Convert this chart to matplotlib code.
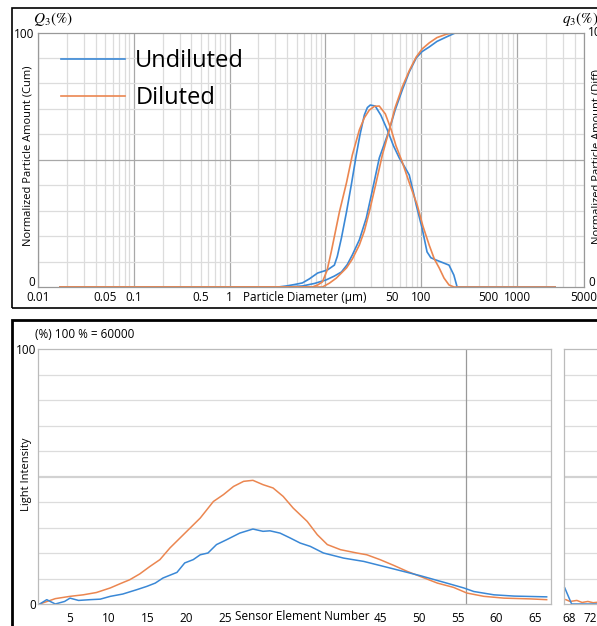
import numpy as np
import matplotlib
matplotlib.use('Agg')
import matplotlib.pyplot as plt
from matplotlib.patches import Rectangle

plt.rcParams['font.family'] = ['Open Sans', 'DejaVu Sans']
plt.rcParams['mathtext.fontset'] = 'stix'

W, H = 597, 626

# --- particle size distribution (top) ---
d_und_diff = [0.017, 3.2, 3.9, 4.8, 5.75, 6.8, 8.3, 10.5, 12.4, 13.3, 14.7, 16.6, 18.7, 21, 23, 25.5, 27.4, 29.4,
              33.1, 37.9, 44.3, 51.3, 59, 66.4, 75, 82.5, 88.7, 102, 115, 126, 143, 167, 195, 219, 237, 2500]
q3_und = [0, 0, 0.4, 1.0, 1.6, 3.2, 5.5, 6.7, 8.6, 12, 19.3, 29.5, 40.5, 51.9, 60, 67.6, 70.5, 71.5,
          71.1, 67.5, 61.7, 55.5, 50.7, 47.5, 44, 37.5, 32.2, 23.2, 13.8, 11.5, 10.6, 9.6, 8.6, 4.7, 0, 0]
d_dil_diff = [0.017, 7.3, 8.3, 9.3, 10.4, 11.5, 14.0, 16.6, 19.1, 22.6, 25.5, 28.7, 32.5, 36.5, 42.2, 48.7,
              54.5, 63.4, 75, 90.8, 104, 121, 137, 154, 173, 195, 220, 2500]
q3_dil = [0, 0, 0.8, 2, 6.5, 13.8, 29.5, 41, 51.9, 61.7, 66.5, 69.5, 71, 71.1, 68, 61.7,
          55.5, 49.1, 41, 32.2, 24, 16.5, 11, 7.5, 3.5, 0.8, 0, 0]
d_und_cum = [0.017, 3.9, 5.75, 7.7, 10.2, 12.4, 14.7, 16.9, 19.1, 22.6, 26.7, 30.7, 36.5, 46.4, 53.4, 63.4,
             75, 88.7, 102, 121, 146, 182, 232, 2500]
Q3_und = [0, 0, 0.4, 1.4, 2.8, 4.3, 5.9, 8.8, 12.6, 18.5, 27.1, 37.5, 50.7, 61.7, 69.5, 77.4,
          84.5, 90, 92.5, 94.3, 96.5, 98.2, 100, 100]
d_dil_cum = [0.017, 9.3, 11, 13, 16.6, 19.1, 22.6, 25.5, 28.7, 33.1, 39.3, 46.4, 53.4, 63.4, 75, 88.7,
             102, 121, 146, 182, 221, 2500]
Q3_dil = [0, 0, 1.5, 3.5, 7.5, 11, 16.5, 22, 29.5, 39.5, 51.9, 61.7, 70.5, 78.6, 85, 90.4,
          93.5, 95.9, 98, 99.3, 100, 100]
size_ticks = [0.01, 0.05, 0.1, 0.5, 1, 50, 100, 500, 1000, 5000]
size_labels = ['0.01', '0.05', '0.1', '0.5', '1', '50', '100', '500', '1000', '5000']

# --- light intensity per sensor element (bottom) ---
elem_dil = [1.1, 3.1, 5, 6.7, 8.4, 10.2, 11.5, 12.7, 14, 15.3, 16.6, 17.9, 19.2, 20.5, 21.8, 23.5, 24.8,
            26.1, 27.4, 28.6, 29.9, 31.2, 32.5, 33.8, 34.7, 35.6, 36.9, 38.2, 39.9, 42.0, 43.3, 45.0,
            46.8, 48.5, 50.2, 52.4, 54.5, 56.2, 58.4, 61, 64.4, 66.5]
light_dil = [0, 2.1, 3.0, 3.6, 4.5, 6.3, 8, 9.5, 11.8, 14.7, 17.4, 22, 25.9, 29.8, 33.7, 40.2, 42.9,
             46.1, 48.1, 48.5, 46.8, 45.5, 42.2, 37.6, 35, 32.4, 27.2, 23.3, 21.3, 20, 19.3, 17.4,
             15.1, 12.8, 10.8, 8.2, 6.5, 4.3, 3.0, 2.3, 2.0, 1.7]
elem_und = [1.1, 2, 3.1, 4.3, 5, 6.1, 7.6, 8.9, 10.2, 11.8, 13.6, 14.9, 16, 17, 18.8, 19.8, 20.9, 21.8,
            22.8, 23.9, 25.2, 26.9, 28.6, 29.9, 30.8, 32.1, 33.4, 34.7, 36, 37.7, 40.3, 42.9, 46.3,
            50.2, 53.6, 55.8, 57.1, 59.7, 62.3, 66.5]
light_und = [0, 1.7, 0, 1, 2.3, 1.4, 1.7, 1.9, 3.0, 3.9, 5.6, 6.9, 8.2, 10.2, 12.4, 16.1, 17.4, 19.3,
             20, 23.3, 25.2, 27.8, 29.4, 28.5, 28.7, 27.8, 25.9, 23.9, 22.6, 20, 18, 16.7, 14.1,
             11.1, 8.2, 6.3, 4.9, 3.6, 3.1, 2.8]
elem_und2 = [67.2, 68.5, 85]
light_und2 = [6.3, 0, 0]
elem_dil2 = [67.4, 68.2, 69.5, 70.5, 71.6, 72.6, 74]
light_dil2 = [1.7, 1.0, 1.4, 0.6, 1.0, 0.5, 0.8]
elem_ticks = [5, 10, 15, 20, 25, 45, 50, 55, 60, 65]
elem_ticks2 = [68, 72]

blue = '#3a88d6'
orange = '#eb8650'
light = '#dcdcdc'
dark = '#a8a8a8'


def box(x0, y0, x1, y1):
    # pixel box -> figure fraction [left, bottom, width, height]
    return [x0 / W, 1 - y1 / H, (x1 - x0) / W, (y1 - y0) / H]


fig = plt.figure(figsize=(W / 100, H / 100), dpi=100)

# outer frames of the two screenshots
fig.patches.append(Rectangle((12 / W, 1 - 308 / H), 600 / W, 300 / H, transform=fig.transFigure,
                             fill=False, ec='black', lw=1.2, clip_on=False))
fig.patches.append(Rectangle((12 / W, -0.05), 600 / W, (H + 31 - 320) / H, transform=fig.transFigure,
                             fill=False, ec='black', lw=2.0, clip_on=False))

# ---------------- top panel ----------------
ax1 = fig.add_axes(box(38, 32.5, 584, 287))
ax1.set_xscale('log')
ax1.set_xlim(0.01, 5000)
ax1.set_ylim(0, 100)
for k in range(-2, 4):
    for m in range(1, 10):
        v = m * 10.0 ** k
        if v > 5000:
            continue
        ax1.axvline(v, color=dark if m == 1 else light, lw=0.9, zorder=0)
for v in range(10, 100, 10):
    ax1.axhline(v, color=dark if v == 50 else light, lw=0.9, zorder=0)

ax1.plot(d_und_cum, Q3_und, color=blue, lw=1.2, label='Undiluted')
ax1.plot(d_und_diff, q3_und, color=blue, lw=1.2)
ax1.plot(d_dil_cum, Q3_dil, color=orange, lw=1.2, label='Diluted')
ax1.plot(d_dil_diff, q3_dil, color=orange, lw=1.2)

ax1.set_xticks(size_ticks)
ax1.set_xticklabels(size_labels)
ax1.xaxis.set_minor_locator(matplotlib.ticker.NullLocator())
ax1.set_yticks([100])
ax1.set_yticklabels(['100'])
ax1.tick_params(length=0, labelsize=8.5, pad=3)
for s in ax1.spines.values():
    s.set_color('#999999')
    s.set_linewidth(0.9)

ax1.legend(loc='upper left', bbox_to_anchor=(0.042, 0.935), frameon=False, fontsize=17,
           handlelength=2.7, handletextpad=0.45, labelspacing=0.55, borderpad=0, borderaxespad=0)

fig.text(305 / W, 1 - 297 / H, 'Particle Diameter (µm)', ha='center', va='center', fontsize=8.5,
         bbox=dict(fc='white', ec='none', pad=1))
fig.text(28 / W, 1 - 156 / H, 'Normalized Particle Amount (Cum)', rotation=90,
         ha='center', va='center', fontsize=8)
fig.text(597 / W, 1 - 157 / H, 'Normalized Particle Amount (Diff)', rotation=90,
         ha='center', va='center', fontsize=8)
fig.text(33 / W, 1 - 19 / H, r'$Q_3(\%)$', ha='left', va='center', fontsize=11)
fig.text(562 / W, 1 - 19 / H, r'$q_3(\%)$', ha='left', va='center', fontsize=11)
fig.text(35 / W, 1 - 283 / H, '0', ha='right', va='center', fontsize=8.5)
fig.text(588 / W, 1 - 33 / H, '100', ha='left', va='center', fontsize=8.5)
fig.text(588 / W, 1 - 283 / H, '0', ha='left', va='center', fontsize=8.5)

# ---------------- bottom panel ----------------
ax2 = fig.add_axes(box(38, 349, 551, 604))
ax2.set_xlim(0.87, 67.06)
ax2.set_ylim(0, 100)
for v in range(10, 100, 10):
    ax2.axhline(v, color='#d2d2d2' if v == 50 else light, lw=1.6 if v == 50 else 0.9, zorder=0)
ax2.axvline(56.1, color='#999999', lw=0.9, zorder=0)
ax2.plot(elem_dil, light_dil, color=orange, lw=1.1)
ax2.plot(elem_und, light_und, color=blue, lw=1.1)
ax2.set_xticks(elem_ticks)
ax2.set_yticks([0, 100])
ax2.set_yticklabels(['0', '100'])
ax2.tick_params(axis='x', length=0, labelsize=8.5, pad=6)
ax2.tick_params(axis='y', length=0, labelsize=8.5, pad=1)
for s in ax2.spines.values():
    s.set_color('#bbbbbb')
    s.set_linewidth(0.9)

ax3 = fig.add_axes(box(564, 349, 644, 604))
ax3.set_xlim(67.05, 67.05 + 80 / 5.25)
ax3.set_ylim(0, 100)
for v in range(10, 100, 10):
    ax3.axhline(v, color='#d2d2d2' if v == 50 else light, lw=1.6 if v == 50 else 0.9, zorder=0)
ax3.plot(elem_dil2, light_dil2, color=orange, lw=1.1)
ax3.plot(elem_und2, light_und2, color=blue, lw=1.1, clip_on=False)
ax3.set_xticks(elem_ticks2)
ax3.set_yticks([])
ax3.tick_params(axis='x', length=0, labelsize=8.5, pad=6)
for s in ax3.spines.values():
    s.set_color('#bbbbbb')
    s.set_linewidth(0.9)

fig.text(302 / W, 1 - 617 / H, 'Sensor Element Number', ha='center', va='center', fontsize=8.5)
fig.text(27 / W, 1 - 474 / H, 'Light Intensity', rotation=90, ha='center', va='center', fontsize=8)
fig.text(35 / W, 1 - 335 / H, '(%) 100 % = 60000', ha='left', va='center', fontsize=8.5)

fig.savefig('out.png', dpi=100)
